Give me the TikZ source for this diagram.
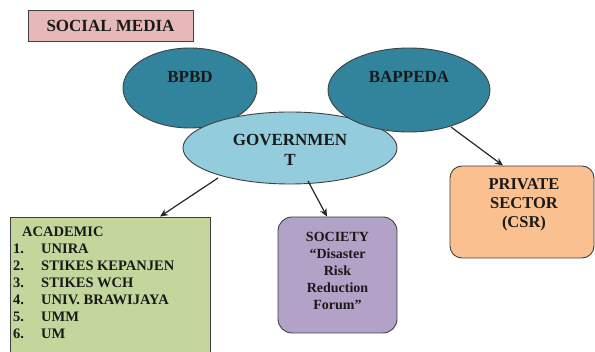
\documentclass[tikz,border=0pt]{standalone}
\usepackage{fontspec}
\setmainfont{Liberation Serif}
\usetikzlibrary{shapes.geometric,arrows.meta}
\definecolor{smpink}{HTML}{E6B9B8}
\definecolor{darkteal}{HTML}{31849B}
\definecolor{lightteal}{HTML}{93CDDD}
\definecolor{peach}{HTML}{FAC090}
\definecolor{lavender}{HTML}{B3A2C7}
\definecolor{olivegreen}{HTML}{C3D69B}
\definecolor{edge}{HTML}{404040}
\tikzset{
  shapeline/.style={draw=edge, line width=0.9pt},
  oval/.style={shapeline, ellipse, inner sep=0pt},
  bigtxt/.style={font=\fontsize{17}{20}\selectfont\bfseries, text=black!90, inner sep=0pt},
  midtxt/.style={font=\fontsize{16.5}{19}\selectfont\bfseries, text=black!90, inner sep=0pt, align=center},
  smalltxt/.style={font=\fontsize{14.5}{17}\selectfont\bfseries, text=black!90, inner sep=0pt},
  soctxtstyle/.style={font=\fontsize{14}{17}\selectfont\bfseries, text=black!90, inner sep=0pt},
  conn/.style={draw=black!85, line width=1.2pt, -{Stealth[length=8pt,width=7pt]}},
}
\begin{document}
\begin{tikzpicture}[x=1pt,y=-1pt]
\useasboundingbox (0,0) rectangle (595,352);
% Social media
\node[shapeline, fill=smpink, minimum width=165pt, minimum height=31pt, inner sep=0pt] (sm) at (110.5,25.5) {};
\node[bigtxt] (smtxt) at (sm.center) {SOCIAL MEDIA};
% BPBD
\node[oval, fill=darkteal, minimum width=134pt, minimum height=80pt] (bpbd) at (190,88) {};
\node[bigtxt] (bpbdtxt) at (190,77) {BPBD};
% Government
\node[oval, fill=lightteal, minimum width=214pt, minimum height=72pt] (gov) at (290,148) {};
\node[bigtxt, align=center] (govtxt) at (290,150) {GOVERNMEN\\T};
% BAPPEDA
\node[oval, fill=darkteal, minimum width=162pt, minimum height=84pt] (bappeda) at (409,90) {};
\node[bigtxt] (bappedatxt) at (409,77) {BAPPEDA};
% Private sector
\node[shapeline, fill=peach, rounded corners=12pt, minimum width=144pt, minimum height=92pt, inner sep=0pt] (priv) at (522,212) {};
\node[midtxt] (privtxt) at (524,205) {PRIVATE\\SECTOR\\(CSR)};
% Society
\node[shapeline, fill=lavender, rounded corners=14pt, minimum width=119pt, minimum height=116pt, inner sep=0pt] (soc) at (337.5,275) {};
\node[soctxtstyle, align=center] (soctxt) at (337.5,271) {SOCIETY\\``Disaster\\Risk\\Reduction\\Forum''};
% Academic
\node[shapeline, fill=olivegreen, minimum width=200pt, minimum height=145pt, inner sep=0pt] (acad) at (110,289.5) {};
\node[smalltxt, anchor=base west] (acadtitle) at (22,237) {ACADEMIC};
\foreach \n/\t [count=\i] in {1/UNIRA,2/STIKES KEPANJEN,3/STIKES WCH,4/UNIV. BRAWIJAYA,5/UMM,6/UM}{
  \node[smalltxt, anchor=base west] (num\i) at (13,237+17*\i) {\n.};
  \node[smalltxt, anchor=base west] (item\i) at (41,237+17*\i) {\t};
}
% Connectors
\coordinate (g1) at (218,178);
\coordinate (g2) at (308,181);
\coordinate (b1) at (451,127);
\draw[conn] (g1) -- (acad.north -| 160,0);
\draw[conn] (g2) -- (soc.north -| 327,0);
\draw[conn] (b1) -- (priv.north -| 503,0);
\end{tikzpicture}
\end{document}
